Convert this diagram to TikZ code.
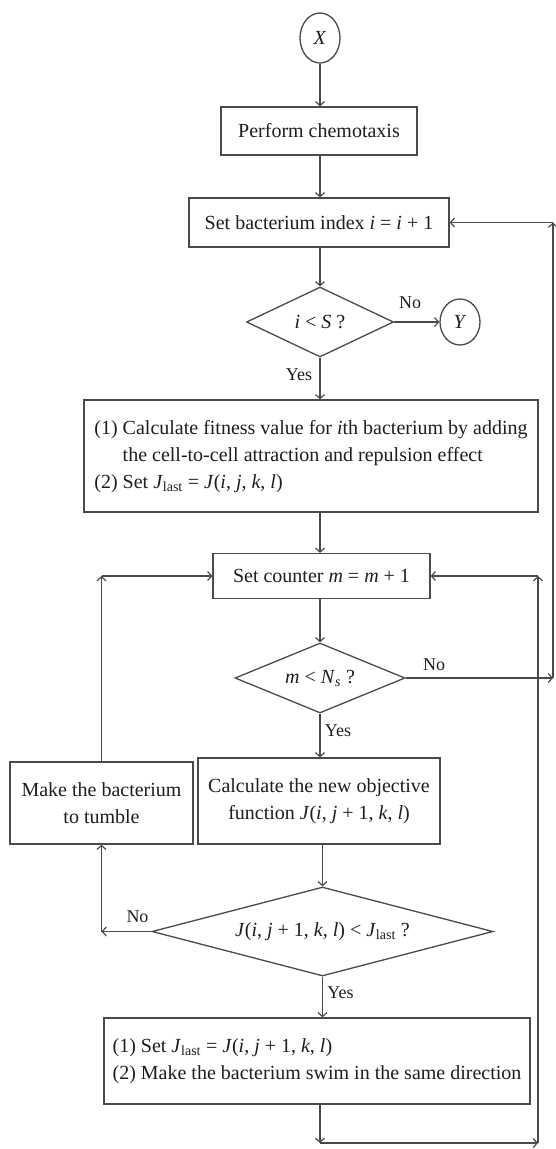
\documentclass[tikz,border=0pt]{standalone}
\usepackage{fontspec}
\setmainfont{Liberation Serif}
\usetikzlibrary{shapes.geometric,arrows.meta}
\definecolor{lc}{HTML}{4a4a4a}
\definecolor{tc}{HTML}{1e1e1e}
\newcommand\mi[1]{\textit{#1}}
\begin{document}
\begin{tikzpicture}[x=1pt,y=-1pt,
  box/.style={draw=lc, line width=1.3pt, rectangle, inner sep=0pt, text=tc,
    font=\fontsize{20}{27}\selectfont, align=center},
  dia/.style={draw=lc, line width=1.3pt, diamond, inner sep=0pt, text=tc,
    font=\fontsize{20}{24}\selectfont},
  term/.style={draw=lc, line width=1.3pt, ellipse, inner sep=0pt, text=tc,
    font=\fontsize{20}{24}\selectfont},
  arr/.style={draw=lc, line width=1.2pt, -{Straight Barb[length=4pt,width=9pt]}},
  lbl/.style={text=tc, inner sep=0pt, font=\fontsize{18}{20}\selectfont}]
\fill[white] (0,0) rectangle (555,1149);
\useasboundingbox (0,0) rectangle (555,1149);

\node[term, minimum width=40pt, minimum height=50pt] (X) at (320,38) {\mi{X}};
\node[box, minimum width=196pt, minimum height=48pt] (chem) at (319,131) {Perform chemotaxis};
\node[box, minimum width=260pt, minimum height=49pt] (setb) at (319,222.5) {Set bacterium index \mi{i} = \mi{i} + 1};
\node[dia, aspect=2.1, minimum width=147pt, minimum height=70pt] (iS) at (320,322) {\mi{i} < \mi{S} ?};
\node[term, minimum width=40pt, minimum height=46pt] (Y) at (460,322) {\mi{Y}};
\node[box, minimum width=454pt, minimum height=112pt] (fit) at (311,456)
  {\begin{tabular}{@{}l@{ }l@{}}(1) & Calculate fitness value for \mi{i}th bacterium by adding\\
   & the cell-to-cell attraction and repulsion effect\\
   (2) & Set \mi{J}\textsubscript{last} = \mi{J}(\mi{i}, \mi{j}, \mi{k}, \mi{l})\end{tabular}};
\node[box, minimum width=217pt, minimum height=45pt] (cnt) at (321.5,576) {Set counter \mi{m} = \mi{m} + 1};
\node[dia, aspect=2.43, minimum width=170pt, minimum height=70pt] (mN) at (320,678) {\mi{m} < \mi{N}\textsubscript{\mi{s}} ?};
\node[box, minimum width=242pt, minimum height=86pt] (calc) at (319,801)
  {Calculate the new objective\\function \mi{J}(\mi{i}, \mi{j} + 1, \mi{k}, \mi{l})};
\node[box, minimum width=183pt, minimum height=82pt] (tum) at (101.5,803)
  {Make the bacterium\\to tumble};
\node[dia, aspect=3.83, minimum width=341pt, minimum height=89pt] (Jd) at (322.5,931.5)
  {\mi{J}(\mi{i}, \mi{j} + 1, \mi{k}, \mi{l}) < \mi{J}\textsubscript{last} ?};
\node[box, minimum width=426pt, minimum height=86pt, align=left] (swim) at (317,1061)
  {(1) Set \mi{J}\textsubscript{last} = \mi{J}(\mi{i}, \mi{j} + 1, \mi{k}, \mi{l})\\
   (2) Make the bacterium swim in the same direction};

% main column
\draw[arr] (X.south) -- (X.south |- chem.north);
\draw[arr] (chem.south -| X.south) -- (X.south |- setb.north);
\draw[arr] (setb.south -| iS.north) -- (iS.north);
\draw[arr] (iS.east) -- (Y.west);
\draw[arr] (iS.south) -- (iS.south |- fit.north);
\draw[arr] (fit.south -| iS.south) -- (iS.south |- cnt.north);
\draw[arr] (cnt.south -| mN.north) -- (mN.north);
\draw[arr] (mN.south) -- (mN.south |- calc.north);
\draw[arr] (calc.south -| Jd.north) -- (Jd.north);
\draw[arr] (Jd.south) -- (Jd.south |- swim.north);

% outer loop (m >= Ns)
\coordinate (oR) at (553,678);
\coordinate (oT) at (553,222.5);
\draw[arr] (mN.east) -- (oR);
\draw[arr] (oR) -- (oT);
\draw[arr] (oT) -- (setb.east);

% inner loop (swim)
\coordinate (bL) at (320,1143);
\coordinate (bR) at (538,1143);
\coordinate (iT) at (538,576);
\draw[arr] (swim.south -| bL) -- (bL);
\draw[arr] (bL) -- (bR);
\draw[arr] (bR) -- (iT);
\draw[arr] (iT) -- (cnt.east);

% tumble loop
\coordinate (lB) at (101.5,931.5);
\coordinate (lT) at (101.5,576);
\draw[arr] (Jd.west) -- (lB);
\draw[arr] (lB) -- (tum.south);
\draw[arr] (tum.north) -- (lT);
\draw[arr] (lT) -- (cnt.west);

% labels
\node[lbl] (no1) at (410,303) {No};
\node[lbl] (yes1) at (299,375) {Yes};
\node[lbl] (no2) at (434,665) {No};
\node[lbl] (yes2) at (338,731) {Yes};
\node[lbl] (no3) at (137.5,917) {No};
\node[lbl] (yes3) at (340.5,993) {Yes};
\end{tikzpicture}
\end{document}
